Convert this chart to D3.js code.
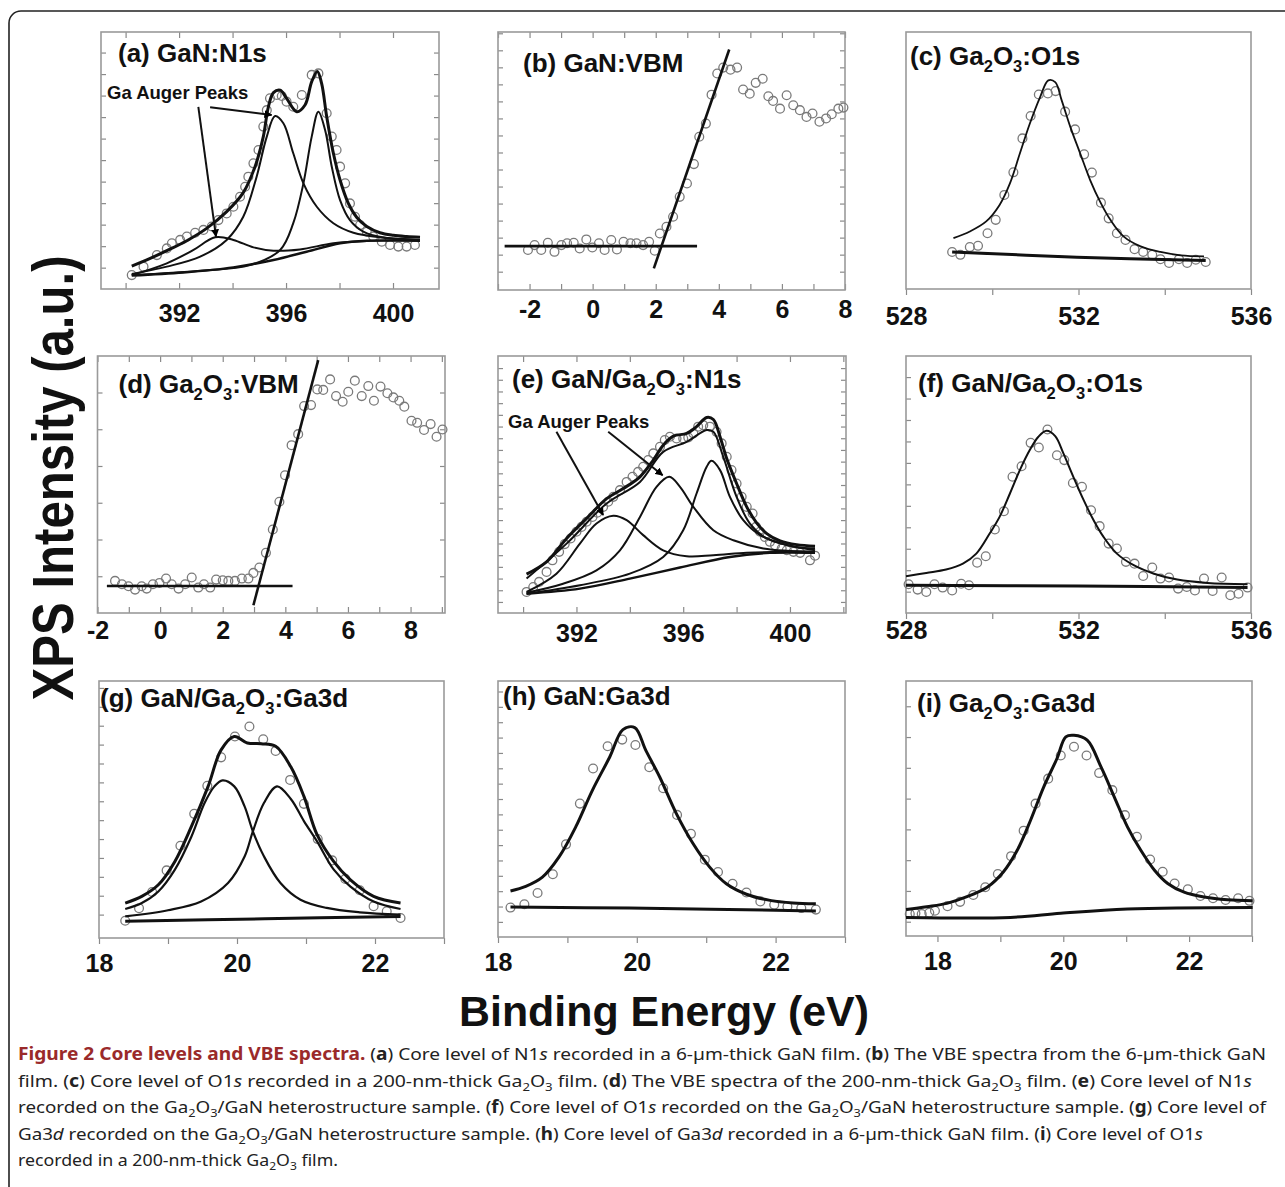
<!DOCTYPE html>
<html>
<head>
<meta charset="utf-8">
<script src="https://cdn.jsdelivr.net/npm/d3@7"></script>
<style>
    body { margin: 0; background: #fff; }
    svg text { font-family: "Liberation Sans", Arial, sans-serif; }
</style>
</head>
<body>
<svg id="fig" width="1285" height="1187"></svg>
<script>
// values, y in arbitrary units (0..100 of each frame)

// (a) GaN:N1s
const aPoints = [[390.23,5.4],[390.67,8.7],[391.17,13.2],[391.54,15.8],[391.73,17.8],[392.04,19.1],[392.29,20.4],[392.6,21.9],[392.91,23],[393.22,24.3],[393.47,26.8],[393.78,29.4],[394.03,32],[394.28,35.9],[394.47,39.8],[394.59,43.7],[394.78,48.9],[394.97,54.1],[395.15,63.2],[395.28,69.6],[395.4,74.2],[395.65,75.5],[395.84,75.1],[396.02,72.9],[396.27,70.9],[396.59,75.5],[396.96,83.3],[397.21,83.9],[397.52,68.4],[397.71,59.3],[397.89,54.1],[398.02,47.6],[398.21,41.1],[398.39,33.3],[398.58,28.1],[398.77,24.9],[399.02,22.3],[399.26,20.4],[399.58,18.4],[399.89,17.1],[400.2,16.5],[400.51,16.5],[400.82,17.1]]
const aEnvelope = [[390.23,8.9],[390.92,11.9],[391.54,14.9],[392.29,18.8],[393.03,23.6],[393.78,30.1],[394.4,37.5],[394.84,47.6],[395.15,59.3],[395.34,70.9],[395.53,76.4],[395.78,77.4],[396.02,74.2],[396.4,69],[396.71,71.6],[396.96,80.7],[397.17,84.6],[397.33,80],[397.52,67.1],[397.77,52.8],[398.02,42.4],[398.33,33.3],[398.64,27.9],[399.02,24.3],[399.51,21.9],[400.01,20.9],[400.51,20.4],[401.01,20.1]]
const aN1s = [[390.23,5.4],[392.79,7.1],[394.65,9.3],[395.78,15.2],[396.27,25.6],[396.65,41.1],[396.96,59.3],[397.21,69],[397.46,61.9],[397.71,47.6],[398.02,34.6],[398.39,26.8],[398.89,22.3],[399.64,20],[401.01,19.1]]
const aAuger2 = [[390.23,5.8],[391.54,8.7],[392.79,12.6],[393.78,19.1],[394.4,28.1],[394.9,43.7],[395.28,59.3],[395.59,67.3],[395.9,64.5],[396.27,52.8],[396.65,41.1],[397.15,32],[397.77,25.6],[398.52,21.9],[399.64,20],[401.01,19.1]]
const aAuger1 = [[390.23,5.4],[391.54,10],[392.54,15.2],[393.35,20.1],[394.03,19.1],[394.78,16.2],[395.53,14.9],[396.52,15.4],[397.77,17.8],[399.02,18.7],[401.01,18.8]]
const aBackground = [[390.23,5.2],[392.16,6.4],[394.03,8.4],[395.53,11.3],[396.77,14.5],[398.02,17.8],[399.02,18.8],[401.01,18.8]]
const aArrows = [[[392.72,70.9],[393.38,20.4]], [[393.16,70.7],[395.46,67.7]]]

// (b) GaN:VBM
const bPoints = [[-2.05,15.5],[-1.84,17.4],[-1.63,15.5],[-1.42,18.3],[-1.21,14.8],[-0.99,17.4],[-0.81,18.1],[-0.6,18.3],[-0.41,16.1],[-0.2,19.6],[-0.01,16.5],[0.2,18.1],[0.38,15.5],[0.59,19.4],[0.77,15.7],[0.98,18.7],[1.2,18.1],[1.39,18.1],[1.6,17.4],[1.79,18.7],[1.97,15.2],[2.13,21.9],[2.34,24.5],[2.55,28.4],[2.76,36.1],[2.99,41.3],[3.21,48.8],[3.38,59.4],[3.59,64.5],[3.77,75.7],[3.95,83.9],[4.14,86.2],[4.37,85.4],[4.58,86.2],[4.77,77.7],[4.98,76.1],[5.17,80.3],[5.39,81.9],[5.57,75.1],[5.72,73.3],[5.94,70.3],[6.15,75.5],[6.36,71.6],[6.57,69.7],[6.78,67.1],[6.97,68.4],[7.19,65.2],[7.4,66.5],[7.58,68.1],[7.79,70.3],[7.95,70.7]]
const bFlat = [[-2.79,17.0],[3.31,17.0]]
const bEdge = [[1.94,8.4],[4.33,93.2]]

// (c) Ga2O3:O1s
const cPoints = [[529.07,14.4],[529.26,13.3],[529.48,16.3],[529.67,16.8],[529.89,21.7],[530.08,26.9],[530.28,36.6],[530.49,45.4],[530.7,58.6],[530.89,67.3],[531.08,75.7],[531.29,76.1],[531.47,77],[531.69,69],[531.92,62.1],[532.13,52.4],[532.31,45.3],[532.52,33.6],[532.7,27.5],[532.89,21.7],[533.09,19.1],[533.3,15.5],[533.5,14.4],[533.71,13.3],[533.9,11.6],[534.1,10.1],[534.33,11.6],[534.52,10.1],[534.72,11.4],[534.95,10.5]]
const cFit = [[529.1,19.8],[529.48,22.4],[529.86,26.3],[530.17,32.7],[530.41,41.1],[530.64,52.7],[530.87,64.3],[531.11,74.7],[531.3,81.2],[531.46,80.5],[531.61,73.4],[531.81,63.1],[532.04,52.7],[532.27,42.4],[532.5,34],[532.74,26.9],[533.05,20.4],[533.44,16.6],[533.9,14.4],[534.37,13.1],[534.91,12.7]]
const cBackground = [[529.07,14.4],[531.96,12.4],[534.95,11.1]]

// (d) Ga2O3:VBM
const dPoints = [[-1.44,12.5],[-1.22,11.2],[-1.01,10.4],[-0.8,9.1],[-0.59,10.4],[-0.43,9.5],[-0.23,11.2],[-0.02,11.7],[0.19,13.4],[0.37,11.2],[0.59,9.5],[0.8,11.2],[1.01,13.8],[1.22,9.9],[1.4,11.2],[1.6,9.9],[1.79,13],[2,12.7],[2.18,12.5],[2.39,12.5],[2.61,13.4],[2.82,13.4],[2.98,15.6],[3.17,17.7],[3.38,23.4],[3.6,32.5],[3.81,43.3],[3.99,53.6],[4.2,65.3],[4.41,69.6],[4.6,80.5],[4.82,80.9],[5.02,87],[5.21,86.8],[5.43,90.9],[5.62,84.4],[5.83,82.2],[6.01,86.1],[6.22,90.4],[6.44,84.4],[6.65,88.3],[6.83,82.6],[7.04,88.1],[7.26,85.5],[7.45,83.9],[7.64,82.6],[7.8,80.3],[8.03,74.8],[8.21,74],[8.43,71.2],[8.64,73.5],[8.83,68.6],[9.02,71.4]]
const dFlat = [[-1.7,10.5],[4.23,10.5]]
const dEdge = [[2.98,3.0],[5.05,98.4]]

// (e) GaN/Ga2O3:N1s
const ePoints = [[390.13,8.2],[390.38,10.1],[390.6,12.1],[390.88,16],[391.1,20.5],[391.35,23.8],[391.56,26.8],[391.78,29],[392,31.6],[392.19,33.5],[392.38,35.5],[392.6,37.4],[392.78,39],[393,41.3],[393.19,43.3],[393.38,45.2],[393.63,47.8],[393.88,51],[394.1,53],[394.31,54.9],[394.5,56.9],[394.69,59.5],[394.88,62.1],[395.13,64.7],[395.31,67.3],[395.5,68.6],[395.75,67.9],[396,67.9],[396.19,68.3],[396.38,69.9],[396.56,72.5],[396.75,73.1],[397,72.5],[397.25,70.5],[397.44,66],[397.63,60.8],[397.81,55.6],[398,50.4],[398.19,45.2],[398.38,41.3],[398.6,38.7],[398.73,33.5],[398.88,31.6],[399.06,29.6],[399.25,27.7],[399.44,26.4],[399.69,25.1],[399.88,24.4],[400.13,23.8],[400.38,23.4],[400.75,20.5],[400.94,22.3]]
const eEnvelope = [[390.13,15.1],[390.88,19.9],[391.63,29],[392.38,36.8],[393.13,44.5],[393.75,48.4],[394.38,53],[394.88,59.5],[395.25,65.3],[395.63,68.8],[396.13,69.9],[396.5,72.5],[396.88,76.1],[397.13,75.3],[397.38,68.6],[397.63,60.1],[398,50.4],[398.38,41.3],[398.75,35.1],[399.13,30.9],[399.63,28.1],[400.25,26.6],[400.94,26]]
const eSum = [[390.13,13.4],[391.63,27],[393.13,42.6],[394.38,51],[395.25,62.7],[396.13,66.6],[396.88,71.2],[397.13,70.5],[397.5,60.8],[398,45.2],[398.5,34.8],[399.13,29],[400.25,25.7],[400.94,25.1]]
const eAuger1 = [[390.13,8.2],[391.25,15.3],[392.13,27],[392.75,34.8],[393.38,37.8],[393.88,36.1],[394.5,30.3],[395.25,24.4],[396.13,22.1],[397.13,22.5],[398.38,23.4],[399.63,23.8],[400.94,23.8]]
const eAuger2 = [[390.13,7.9],[391.5,11.4],[392.75,16.6],[393.63,24.4],[394.38,37.4],[395,49.1],[395.48,53],[395.88,49.1],[396.38,41.3],[397.13,32.2],[397.88,28.3],[399,25.1],[400.94,23.8]]
const eN1s = [[390.13,7.5],[392.13,10.8],[394,15.3],[395.25,21.8],[396,32.2],[396.5,46.5],[396.88,56.9],[397.06,59.2],[397.38,55.6],[397.75,45.2],[398.25,36.1],[398.88,30.3],[399.88,26.4],[400.94,24.4]]
const eBackground = [[390.13,7.5],[392.13,9.5],[394,13.4],[395.88,17.7],[397.75,21.8],[399.25,23.4],[400.94,23.4]]
const eArrows = [[[391.25,70.5],[393.0,38.1]], [[393.19,70.5],[395.23,53.6]]]

// (f) GaN/Ga2O3:O1s
const fPoints = [[528.06,11.2],[528.27,9.1],[528.47,8.2],[528.66,11.2],[528.85,9.9],[529.07,8.8],[529.28,11.4],[529.46,10.8],[529.65,19.6],[529.85,22.1],[530.06,32.5],[530.27,39.6],[530.47,53],[530.68,57.1],[530.89,66.2],[531.08,64.4],[531.28,71.4],[531.5,61.4],[531.67,59.5],[531.87,50.6],[532.08,49.1],[532.29,40],[532.49,33.8],[532.7,27],[532.89,25.1],[533.1,19.9],[533.3,19.2],[533.5,14.4],[533.71,17.7],[533.9,13.4],[534.1,13.8],[534.31,9.5],[534.51,10.1],[534.7,8.8],[534.91,13.4],[535.11,8.6],[535.32,13.8],[535.52,6.9],[535.71,7.5],[535.92,9.9]]
const fFit = [[528,14.3],[528.47,15.6],[528.93,16.9],[529.32,19.2],[529.63,23.1],[529.94,30.9],[530.17,37.4],[530.41,46.5],[530.64,55.6],[530.87,63.4],[531.07,68.6],[531.26,70.9],[531.46,68.8],[531.65,62.1],[531.88,53],[532.12,43.9],[532.35,36.1],[532.58,29.6],[532.89,23.1],[533.28,18.6],[533.75,15.3],[534.29,13],[534.99,11.7],[535.92,11.2]]
const fBackground = [[528,10.8],[532,10.5],[535.92,9.9]]

// (g) GaN/Ga2O3:Ga3d
const gPoints = [[18.38,6.7],[18.58,11.6],[18.77,17.9],[18.98,26.3],[19.18,35.9],[19.38,48.3],[19.57,59.2],[19.77,70.3],[19.97,78.4],[20.18,82.3],[20.38,77.3],[20.56,72.8],[20.77,61.5],[20.97,52.2],[21.17,38.5],[21.38,30.2],[21.57,23],[21.78,18.6],[21.98,12.4],[22.17,10.4],[22.37,7.8]]
const gEnvelope = [[18.38,13.6],[18.62,16.2],[18.86,20.7],[19.1,29.8],[19.34,43.4],[19.58,58.9],[19.77,73.2],[19.96,78.4],[20.15,75.9],[20.35,75.6],[20.56,74.6],[20.78,66.6],[20.97,55.1],[21.16,40.2],[21.4,29.8],[21.64,22.7],[21.98,16.2],[22.37,13.6]]
const gPeakLow = [[18.38,11.3],[18.62,13.6],[18.86,18.1],[19.1,26.6],[19.34,39.5],[19.53,52.5],[19.67,58.9],[19.79,61.3],[19.96,59],[20.11,51.2],[20.23,41.5],[20.39,31.8],[20.63,21.4],[20.92,14.9],[21.3,11.7],[21.78,10],[22.37,9.1]]
const gPeakHigh = [[18.38,8.4],[19,10.8],[19.48,14.2],[19.87,21.4],[20.11,31.7],[20.23,41.5],[20.39,52.5],[20.58,59],[20.78,54.1],[20.97,45.5],[21.16,37.6],[21.4,26.7],[21.64,20.1],[21.98,14.2],[22.37,11.3]]
const gBackground = [[18.38,6.5],[20.4,7.5],[22.37,8.4]]

// (h) GaN:Ga3d
const hPoints = [[18.18,11.5],[18.38,12.8],[18.57,17.2],[18.79,24.5],[18.98,36.2],[19.18,52.1],[19.37,65.8],[19.58,74.5],[19.79,77.1],[19.98,75],[20.18,66.3],[20.38,58.1],[20.58,47.7],[20.78,40.3],[20.98,30.2],[21.17,25.4],[21.38,20.8],[21.58,17.4],[21.78,13.9],[21.98,12.6],[22.17,11.9],[22.37,11.3],[22.58,10.7]]
const hFit = [[18.18,18],[18.4,19.8],[18.64,23.4],[18.88,31.3],[19.12,43],[19.36,57.3],[19.61,70.3],[19.8,81],[19.97,81.8],[20.13,72.9],[20.33,62.5],[20.57,48.2],[20.81,36.5],[21.05,27.3],[21.29,20.8],[21.58,16.7],[21.92,14.3],[22.25,13.3],[22.58,13]]
const hBackground = [[18.18,11.7],[19.89,11.3],[22.58,10.2]]

// (i) Ga2O3:Ga3d
const iPoints = [[17.56,8.6],[17.65,8.9],[17.75,8.6],[17.87,9.1],[17.96,9.9],[18.16,11.7],[18.36,13.4],[18.57,16.1],[18.76,19.1],[18.96,24.3],[19.17,31.3],[19.37,41.3],[19.56,51.9],[19.76,61.7],[19.96,70.8],[20.17,74.2],[20.37,70.8],[20.57,63.9],[20.78,57.2],[20.98,47.4],[21.17,38.9],[21.38,30],[21.58,25.2],[21.77,20.6],[21.98,18.3],[22.18,15.7],[22.38,14.8],[22.58,14.1],[22.78,14.8],[22.96,13.8]]
const iFit = [[17.5,10.4],[17.83,11.5],[18.15,12.8],[18.47,15.4],[18.79,19.1],[19.05,25.2],[19.27,33.7],[19.48,45.4],[19.69,58.5],[19.9,69.6],[20.04,78.1],[20.17,78.7],[20.38,76.8],[20.6,66.3],[20.81,54.6],[21.02,42.8],[21.23,33.7],[21.45,25.8],[21.66,20.6],[21.92,17.2],[22.24,15.3],[22.61,14.2],[23.01,13.8]]
const iBackground = [[17.5,7.3],[19.16,7.3],[19.96,8.9],[21.02,10.6],[23.01,11.2]]

const captionLines = [
    "!!Figure 2 Core levels and VBE spectra.!! (**a**) Core level of N1*s* recorded in a 6-µm-thick GaN film. (**b**) The VBE spectra from the 6-µm-thick GaN",
    "film. (**c**) Core level of O1*s* recorded in a 200-nm-thick Ga_2O_3 film. (**d**) The VBE spectra of the 200-nm-thick Ga_2O_3 film. (**e**) Core level of N1*s*",
    "recorded on the Ga_2O_3/GaN heterostructure sample. (**f**) Core level of O1*s* recorded on the Ga_2O_3/GaN heterostructure sample. (**g**) Core level of",
    "Ga3*d* recorded on the Ga_2O_3/GaN heterostructure sample. (**h**) Core level of Ga3*d* recorded in a 6-µm-thick GaN film. (**i**) Core level of O1*s*",
    "recorded in a 200-nm-thick Ga_2O_3 film."
]
// printed width of each caption line in the figure
const captionWidths = [1248, 1234, 1248, 1185, 320]

const panels = [
    { title: "(a) GaN:N1s", box: [101, 32, 439, 289], x: [389.08, 401.72], xt: [390, 2], labels: [392, 396, 400],
      yt: [8.3, 8.37], right: true, top: true, out: false, tpos: [17, 30], lab: 33,
      points: aPoints, lines: [[aBackground, 2.4], [aAuger1, 2], [aAuger2, 2], [aN1s, 2], [aEnvelope, 3]],
      note: [6, 67], arrows: aArrows },
    { title: "(b) GaN:VBM", box: [498, 32, 845, 290], x: [-3, 8], xt: [-3, 1], labels: [-2, 0, 2, 4, 6, 8],
      yt: [7.1, 6.6], right: true, top: true, out: false, tpos: [25, 40], lab: 28,
      points: bPoints, lines: [[bFlat, 2.6, "line"], [bEdge, 2.6, "line"]] },
    { title: "(c) Ga_2O_3:O1s", box: [906, 32, 1251, 289], x: [528, 536], xt: [528, 2], labels: [528, 532, 536],
      yt: null, right: false, top: false, out: true, tpos: [4, 33], lab: 36,
      points: cPoints, lines: [[cFit, 1.8], [cBackground, 3]] },
    { title: "(d) Ga_2O_3:VBM", box: [97.5, 356, 445, 613], x: [-2, 9.1], xt: [-2, 1], labels: [-2, 0, 2, 4, 6, 8],
      yt: [14.3, 14.3], right: true, top: true, out: false, tpos: [21, 37], lab: 26,
      points: dPoints, lines: [[dFlat, 2.6, "line"], [dEdge, 2.6, "line"]] },
    { title: "(e) GaN/Ga_2O_3:N1s", box: [498, 356, 846, 613], x: [389.06, 402.1], xt: [390, 2], labels: [392, 396, 400],
      yt: [4.3, 4.55], right: true, top: true, out: false, tpos: [14, 32], lab: 29,
      points: ePoints, lines: [[eBackground, 2.4], [eAuger1, 2], [eAuger2, 2], [eN1s, 2], [eSum, 2], [eEnvelope, 3]],
      note: [10, 72], arrows: eArrows },
    { title: "(f) GaN/Ga_2O_3:O1s", box: [906, 356, 1251, 613], x: [528, 536], xt: [528, 2], labels: [528, 532, 536],
      yt: [8.3, 8.35], right: false, top: false, out: true, tpos: [12, 36], lab: 26,
      points: fPoints, lines: [[fFit, 2], [fBackground, 3]] },
    { title: "(g) GaN/Ga_2O_3:Ga3d", box: [99, 681, 444, 938], x: [18, 23], xt: [18, 1], labels: [18, 20, 22],
      yt: [9.1, 7.35], right: false, top: false, out: true, tpos: [1, 26], lab: 34,
      points: gPoints, lines: [[gBackground, 3], [gPeakLow, 2.2], [gPeakHigh, 2.2], [gEnvelope, 3]] },
    { title: "(h) GaN:Ga3d", box: [498, 681, 845, 937], x: [18, 23], xt: [18, 1], labels: [18, 20, 22],
      yt: [5.9, 6.0], right: false, top: false, out: true, tpos: [5, 24], lab: 34,
      points: hPoints, lines: [[hBackground, 3], [hFit, 3]] },
    { title: "(i) Ga_2O_3:Ga3d", box: [906, 681, 1252, 936], x: [17.5, 23], xt: [18, 1], labels: [18, 20, 22],
      yt: [5.6, 12.07], right: false, top: false, out: true, tpos: [11, 31], lab: 34,
      points: iPoints, lines: [[iBackground, 3], [iFit, 3]] }
]

const svg = d3.select("#fig")

// frame round the whole figure
svg.append("rect")
    .attr("x", 9).attr("y", 11).attr("width", 1300).attr("height", 1220)
    .attr("rx", 12).attr("fill", "none").attr("stroke", "#222").attr("stroke-width", 1.6)

svg.append("defs").append("marker")
    .attr("id", "head").attr("viewBox", "0 0 10 10").attr("refX", 9).attr("refY", 5)
    .attr("markerWidth", 4).attr("markerHeight", 4).attr("orient", "auto")
    .append("path").attr("d", "M0,0L10,5L0,10z").attr("fill", "#000")

// text with **bold**, *italic*, !!title!! and _2 subscripts
function rich(sel, str, subSize, subShift) {
    const parts = str.split(/(!![^!]+!!|\*\*[^*]+\*\*|\*[^*]+\*|_\d)/).filter(s => s)
    let shifted = 0
    parts.forEach(s => {
        const t = sel.append("tspan")
        let dy = -shifted
        shifted = 0
        if (s.startsWith("!!")) t.text(s.slice(2, -2)).attr("font-weight", "bold").attr("fill", "#9a2a2a")
        else if (s.startsWith("**")) t.text(s.slice(2, -2)).attr("font-weight", "bold")
        else if (s.startsWith("*")) t.text(s.slice(1, -1)).attr("font-style", "italic")
        else if (s.startsWith("_")) {
            t.text(s.slice(1)).attr("font-size", subSize)
            dy += subShift
            shifted = subShift
        } else t.text(s)
        if (dy) t.attr("dy", dy)
    })
}

function drawPanel(p) {
    const [x0, y0, x1, y1] = p.box
    const x = d3.scaleLinear().domain(p.x).range([x0, x1])
    const y = d3.scaleLinear().domain([0, 100]).range([y1, y0])
    const g = svg.append("g")
    const tickColor = "#8a8a8a"

    const xticks = d3.range(p.xt[0], p.x[1] + 0.01, p.xt[1])
    const fmt = d => p.labels.some(l => Math.abs(l - d) < 1e-6) ? String(Math.round(d)) : ""
    const fs = 25
    const bottom = d3.axisBottom(x).tickValues(xticks).tickFormat(fmt)
        .tickSize(p.out ? 6 : -6)
        .tickPadding(p.lab - 0.716 * fs - (p.out ? 6 : 0))
    const ax = g.append("g").attr("transform", `translate(0,${y1})`).call(bottom)
    ax.select(".domain").remove()
    ax.selectAll("line").attr("stroke", tickColor).attr("stroke-width", 1.2)
    ax.selectAll("text").attr("font-size", fs).attr("font-weight", "bold")
        .attr("fill", "#111").style("font-family", "'Liberation Sans', Arial, sans-serif")

    if (p.top) {
        const tx = g.append("g").attr("transform", `translate(0,${y0})`)
            .call(d3.axisTop(x).tickValues(xticks).tickFormat("").tickSize(-6))
        tx.select(".domain").remove()
        tx.selectAll("line").attr("stroke", tickColor).attr("stroke-width", 1.2)
    }
    if (p.yt) {
        const yticks = d3.range(p.yt[0], 99.5, p.yt[1])
        const ly = g.append("g").attr("transform", `translate(${x0},0)`)
            .call(d3.axisLeft(y).tickValues(yticks).tickFormat("").tickSize(-5))
        ly.select(".domain").remove()
        ly.selectAll("line").attr("stroke", tickColor).attr("stroke-width", 1.2)
        if (p.right) {
            const ry = g.append("g").attr("transform", `translate(${x1},0)`)
                .call(d3.axisRight(y).tickValues(yticks).tickFormat("").tickSize(-5))
            ry.select(".domain").remove()
            ry.selectAll("line").attr("stroke", tickColor).attr("stroke-width", 1.2)
        }
    }

    g.append("rect")
        .attr("x", x0).attr("y", y0).attr("width", x1 - x0).attr("height", y1 - y0)
        .attr("fill", "none").attr("stroke", "#9a9a9a").attr("stroke-width", 1.6)

    g.append("g").selectAll("circle")
        .data(p.points)
        .join("circle")
        .attr("cx", d => x(d[0]))
        .attr("cy", d => y(d[1]))
        .attr("r", 4.4)
        .attr("fill", "none")
        .attr("stroke", "#7a7a7a")
        .attr("stroke-width", 1.3)

    p.lines.forEach(([data, w, kind]) => {
        const line = d3.line().x(d => x(d[0])).y(d => y(d[1]))
        if (kind !== "line") line.curve(d3.curveCatmullRom.alpha(0.5))
        g.append("path")
            .attr("d", line(data))
            .attr("fill", "none")
            .attr("stroke", "#111")
            .attr("stroke-width", w)
            .attr("stroke-linejoin", "round")
    })

    if (p.arrows) {
        p.arrows.forEach(a => {
            g.append("line")
                .attr("x1", x(a[0][0])).attr("y1", y(a[0][1]))
                .attr("x2", x(a[1][0])).attr("y2", y(a[1][1]))
                .attr("stroke", "#111").attr("stroke-width", 2)
                .attr("marker-end", "url(#head)")
        })
        g.append("text")
            .attr("x", x0 + p.note[0]).attr("y", y0 + p.note[1])
            .attr("font-size", 18.5).attr("font-weight", "bold").attr("fill", "#111")
            .text("Ga Auger Peaks")
    }

    const t = g.append("text")
        .attr("x", x0 + p.tpos[0]).attr("y", y0 + p.tpos[1])
        .attr("font-size", 26).attr("font-weight", "bold").attr("fill", "#111")
    rich(t, p.title, 16.5, 7)
}

panels.forEach(drawPanel)

// shared axis titles
svg.append("text")
    .attr("transform", "translate(73,478) rotate(-90)")
    .attr("text-anchor", "middle")
    .attr("font-size", 57).attr("font-weight", "bold").attr("fill", "#111")
    .attr("textLength", 445).attr("lengthAdjust", "spacingAndGlyphs")
    .text("XPS Intensity (a.u.)")

svg.append("text")
    .attr("x", 664).attr("y", 1026)
    .attr("text-anchor", "middle")
    .attr("font-size", 43).attr("font-weight", "bold").attr("fill", "#111")
    .attr("textLength", 410).attr("lengthAdjust", "spacingAndGlyphs")
    .text("Binding Energy (eV)")

// caption, each line squeezed to its printed width
svg.append("g").selectAll("text")
    .data(captionLines)
    .join("text")
    .attr("x", 18)
    .attr("y", (d, i) => 1060 + i * 26.6)
    .attr("font-size", 17)
    .attr("fill", "#222")
    .attr("textLength", (d, i) => captionWidths[i])
    .attr("lengthAdjust", "spacingAndGlyphs")
    .style("font-family", "'Noto Sans', 'Open Sans', sans-serif")
    .each(function (d) { rich(d3.select(this), d, 11.5, 4) })
</script>
</body>
</html>
